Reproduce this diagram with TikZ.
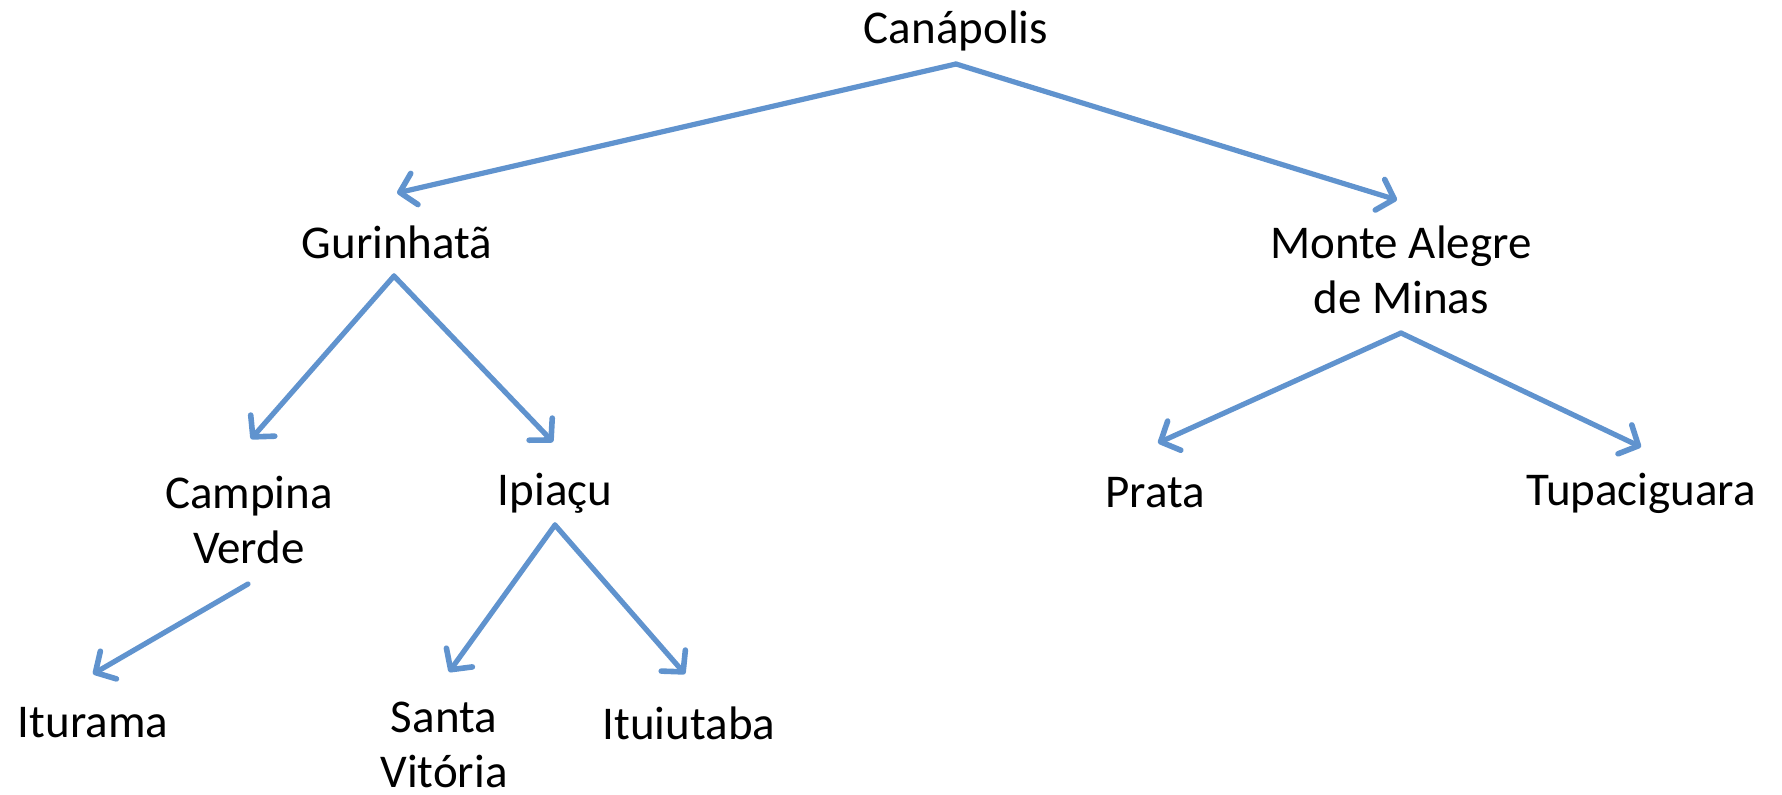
\documentclass[tikz,border=0pt]{standalone}
\usepackage{fontspec}
\setmainfont{Carlito}
\usetikzlibrary{arrows.meta,calc}
\definecolor{arrblue}{RGB}{96,147,206}
\tikzset{
  city/.style={inner sep=0pt, align=center, font=\fontsize{23.5pt}{27.5pt}\selectfont},
  arr/.style={draw=arrblue, line width=2.6pt, line cap=round, line join=round,
    -{Straight Barb[length=7.5pt,width=16pt,line width=2.8pt,round]}}
}
\begin{document}
\begin{tikzpicture}[x=0.5pt,y=-0.5pt]
\useasboundingbox (0,0) rectangle (1782,795);
\node[city] (can) at (956,31) {Canápolis};
\node[city] (gur) at (397,242) {Gurinhatã};
\node[city] (mon) at (1401,270) {Monte Alegre\\de Minas};
\node[city] (cam) at (249,520) {Campina\\Verde};
\node[city] (ipi) at (555,493) {Ipiaçu};
\node[city] (pra) at (1155,493) {Prata};
\node[city] (tup) at (1641,493) {Tupaciguara};
\node[city] (itu) at (93,723) {Iturama};
\node[city] (san) at (444,745) {Santa\\Vitória};
\node[city] (itb) at (689,723) {Ituiutaba};

\draw[arr] ($(can)+(0,33)$) -- ($(gur)+(0,-49)$);
\draw[arr] ($(can)+(0,33)$) -- ($(mon)+(-4,-70)$);
\draw[arr] ($(gur)+(-3,34)$) -- ($(cam)+(2,-81)$);
\draw[arr] ($(gur)+(-3,34)$) -- ($(ipi)+(-2,-51)$);
\draw[arr] ($(mon)+(0,63)$) -- ($(pra)+(3,-50)$);
\draw[arr] ($(mon)+(0,63)$) -- ($(tup)+(0,-46)$);
\draw[arr] ($(cam)+(-1,64)$) -- ($(itu)+(0,-49)$);
\draw[arr] ($(ipi)+(0,32)$) -- ($(san)+(5,-73)$);
\draw[arr] ($(ipi)+(0,32)$) -- ($(itb)+(-4,-49)$);
\end{tikzpicture}
\end{document}
